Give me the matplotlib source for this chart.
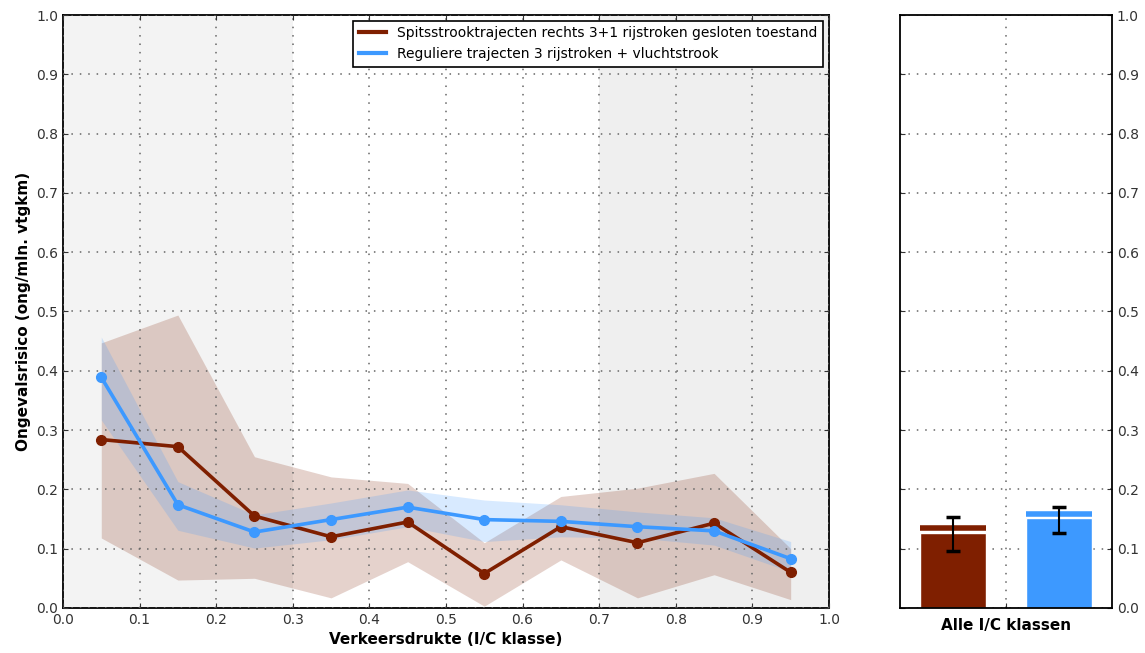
import matplotlib
matplotlib.use("Agg")
import matplotlib.pyplot as plt
from matplotlib.lines import Line2D

# I/C klasse midpoints
ic = [0.05, 0.15, 0.25, 0.35, 0.45, 0.55, 0.65, 0.75, 0.85, 0.95]

# Spitsstrook (red)
spits = [0.284, 0.272, 0.155, 0.120, 0.145, 0.058, 0.137, 0.110, 0.143, 0.060]
spits_hi = [0.447, 0.494, 0.255, 0.221, 0.210, 0.110, 0.188, 0.202, 0.227, 0.100]
spits_lo = [0.118, 0.047, 0.050, 0.017, 0.078, 0.003, 0.081, 0.017, 0.056, 0.014]

# Regulier (blue)
regul = [0.389, 0.174, 0.128, 0.149, 0.170, 0.149, 0.146, 0.137, 0.130, 0.083]
regul_hi = [0.457, 0.213, 0.157, 0.177, 0.199, 0.182, 0.174, 0.162, 0.152, 0.112]
regul_lo = [0.317, 0.131, 0.101, 0.115, 0.137, 0.112, 0.120, 0.118, 0.106, 0.061]

# Alle I/C klassen
bar_vals = [0.126, 0.152]
bar_mean = [0.135, 0.159]
bar_err_lo = [0.096, 0.126]
bar_err_hi = [0.154, 0.171]

labels = ["Spitsstrooktrajecten rechts 3+1 rijstroken gesloten toestand",
          "Reguliere trajecten 3 rijstroken + vluchtstrook"]
RED, BLUE = "#7f1f00", "#3d99ff"
GRID = dict(color="#666666", linestyle=(0, (1, 4.5)), linewidth=1.1)

fig = plt.figure(figsize=(11.45, 6.53), dpi=100)
ax = fig.add_axes([0.055, 0.069, 0.669, 0.908])
axr = fig.add_axes([0.786, 0.069, 0.185, 0.908])

ax.axvspan(0.0, 0.3, color="#f3f3f3", zorder=0, lw=0)
ax.axvspan(0.7, 1.0, color="#efefef", zorder=0, lw=0)

ax.fill_between(ic, spits_lo, spits_hi, color=RED, alpha=0.2, lw=0, zorder=1)
ax.fill_between(ic, regul_lo, regul_hi, color=BLUE, alpha=0.2, lw=0, zorder=1)
ax.plot(ic, spits, color=RED, lw=2.6, marker="o", ms=7, mec=RED, zorder=3)
ax.plot(ic, regul, color=BLUE, lw=2.6, marker="o", ms=7, mec=BLUE, zorder=3)

ax.set_xlim(0, 1)
ax.set_ylim(0, 1)
ax.set_xticks([i / 10 for i in range(11)])
ax.set_yticks([i / 10 for i in range(11)])
ax.set_xlabel("Verkeersdrukte (I/C klasse)", fontsize=11, fontweight="bold")
ax.set_ylabel("Ongevalsrisico (ong/mln. vtgkm)", fontsize=11, fontweight="bold")
ax.grid(True, **GRID)
ax.set_axisbelow(False)
ax.tick_params(direction="in", top=True, right=True, labelsize=10, colors="#333333")
handles = [Line2D([], [], color=RED, lw=3), Line2D([], [], color=BLUE, lw=3)]
leg = ax.legend(handles, labels, loc="upper right", fontsize=10, fancybox=False,
                framealpha=1, edgecolor="black", handlelength=2, borderaxespad=0.4)
leg.get_frame().set_linewidth(1.2)

pos = [0, 1]
colors = [RED, BLUE]
axr.bar(pos, bar_vals, width=0.62, color=colors, edgecolor="white", lw=1.0, zorder=2)
for p, m, c in zip(pos, bar_mean, colors):
    axr.plot([p - 0.31, p + 0.31], [m, m], color=c, lw=4, zorder=3,
             solid_capstyle="butt")
mid = [(lo + hi) / 2 for lo, hi in zip(bar_err_lo, bar_err_hi)]
half = [(hi - lo) / 2 for lo, hi in zip(bar_err_lo, bar_err_hi)]
axr.errorbar(pos, mid, yerr=half, fmt="none", ecolor="black", elinewidth=1.5,
             capsize=5, capthick=2.5, zorder=4)
axr.set_xlim(-0.5, 1.5)
axr.set_ylim(0, 1)
axr.set_xticks([0.5])
axr.set_xticklabels([""])
axr.set_yticks([i / 10 for i in range(11)])
axr.yaxis.tick_right()
axr.set_xlabel("Alle I/C klassen", fontsize=11, fontweight="bold")
axr.grid(True, **GRID)
axr.tick_params(direction="in", left=True, right=True, labelsize=10, colors="#333333")

for a in (ax, axr):
    for s in a.spines.values():
        s.set_linewidth(1.3)

fig.savefig("out.png", dpi=100)
